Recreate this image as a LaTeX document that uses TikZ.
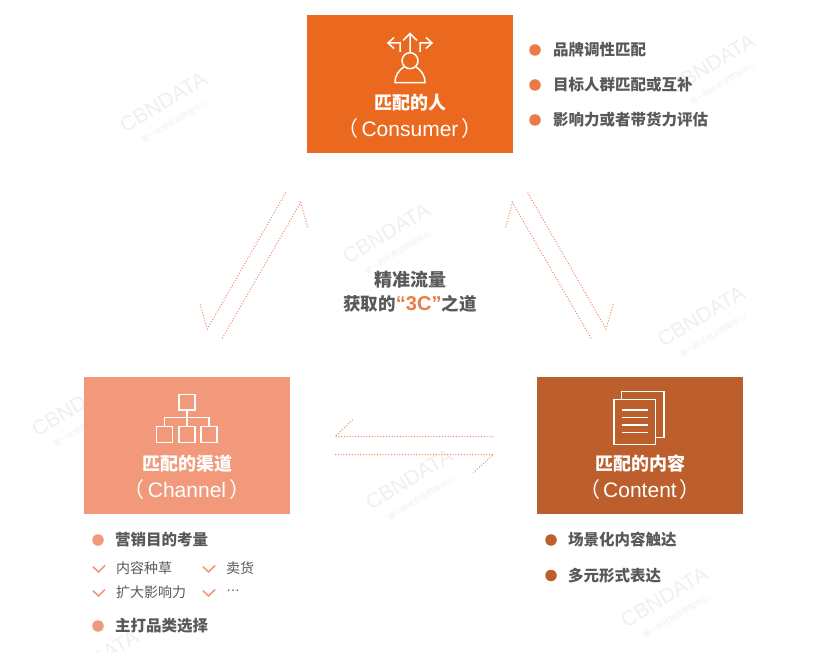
\documentclass[tikz,border=0pt]{standalone}
\usepackage{fontspec}
\setmainfont{Noto Sans CJK SC}
\newfontfamily\latinf{Liberation Sans}
\definecolor{cOrange}{HTML}{EB691F}
\definecolor{cSalmon}{HTML}{F2997B}
\definecolor{cBrown}{HTML}{BC5F2C}
\definecolor{cText}{HTML}{595959}
\definecolor{cDot}{HTML}{EE8A62}
\definecolor{cMark}{HTML}{F0F0F0}
\definecolor{cBul}{HTML}{EC7A45}
\newcommand{\fs}[1]{\fontsize{#1}{#1}\selectfont}
\tikzset{
  cardbox/.style={fill=#1,draw=none,inner sep=0pt,minimum width=206pt,minimum height=138pt,anchor=north west},
  cardtitle/.style={text=white,font=\fs{18}\bfseries,inner sep=0pt},
  cardsub/.style={text=white,font=\fs{21}\latinf,inner sep=0pt},
  listtext/.style={text=cText,font=\fs{15.5}\bfseries,anchor=west,inner sep=0pt},
  subtext/.style={text=cText,font=\fs{14},anchor=west,inner sep=0pt},
  bulletdot/.style={circle,fill=#1,draw=none,minimum size=11.5pt,inner sep=0pt},
  dotarrow/.style={draw=cDot,line width=1pt,dash pattern=on 1pt off 1.8pt,line join=miter},
  iconline/.style={draw=white,line width=1.5pt},
  checkmark/.style={draw=cSalmon,line width=1.6pt},
  wmark/.style={text=cMark,rotate=31,inner sep=0pt,align=center,font=\latinf\fs{21}},
}
\newcommand{\wm}[3]{\node[wmark] (#1) at (#2,#3) {CBNDATA\\[-3pt]{\fs{7.5}\rmfamily 第一财经商业数据中心}};}
\begin{document}
\begin{tikzpicture}[x=1pt,y=-1pt]
\clip (0,0) rectangle (820,652);
\fill[white] (0,0) rectangle (820,652);
% watermarks
\wm{wa}{168}{110}
\wm{wb}{391}{241}
\wm{wc}{706}{324}
\wm{wd}{80}{414}
\wm{we}{716}{72}
\wm{wf}{414}{487}
\wm{wg}{669}{605}
\wm{wh}{100}{668}
% cards
\node[cardbox=cOrange] (consumer) at (307,15) {};
\node[cardbox=cSalmon,minimum height=137pt] (channel) at (84,377) {};
\node[cardbox=cBrown,minimum height=137pt] (content) at (537,377) {};
% card text
\node[cardtitle] (t1) at (410,103) {匹配的人};
\node[cardsub] (s1) at (410,129) {{\rmfamily （}\kern3pt Consumer\kern3pt{\rmfamily ）}};
\node[cardtitle] (t2) at (187,464) {匹配的渠道};
\node[cardsub] (s2) at (187,490) {{\rmfamily （}\kern3pt Channel\kern3pt{\rmfamily ）}};
\node[cardtitle] (t3) at (640,464) {匹配的内容};
\node[cardsub] (s3) at (640,490) {{\rmfamily （}\kern3pt Content\kern3pt{\rmfamily ）}};
% person icon
\draw[iconline] (410,60.7) circle (8);
\draw[iconline] (404,67) .. controls (399,70) and (395,75) .. (395,82.7) -- (425,82.7) .. controls (425,75) and (421,70) .. (416,67);
\draw[iconline] (410,52) -- (410,34) (403,40.5) -- (410,33.5) -- (417,40.5);
\draw[iconline] (400,52) -- (400,43) -- (388.5,43) (394,37.5) -- (388,43) -- (394,48.5);
\draw[iconline] (420,52) -- (420,43) -- (431.5,43) (426,37.5) -- (432,43) -- (426,48.5);
% channel icon
\draw[iconline] (179,394.3) rectangle (195,410);
\draw[iconline] (156.7,426.7) rectangle (172.7,442.3);
\draw[iconline] (179,426.7) rectangle (195,442.3);
\draw[iconline] (201,426.7) rectangle (217,442.3);
\draw[iconline] (187,410) -- (187,426.7) (164.7,426.7) -- (164.7,417.3) -- (209,417.3) -- (209,426.7);
% content icon
\draw[iconline] (621.7,399.3) -- (621.7,391.7) -- (664,391.7) -- (664,437.3) -- (655.7,437.3);
\draw[iconline] (614,399.3) rectangle (655.7,444.3);
\draw[iconline] (621.7,410) -- (648,410) (621.7,417.7) -- (648,417.7) (621.7,425) -- (648,425) (621.7,432.7) -- (648,432.7);
% consumer list
\node[bulletdot=cBul] (b11) at (535,50) {};
\node[bulletdot=cBul] (b12) at (535,85) {};
\node[bulletdot=cBul] (b13) at (535,120) {};
\node[listtext] (l11) at (553,50) {品牌调性匹配};
\node[listtext] (l12) at (553,85) {目标人群匹配或互补};
\node[listtext] (l13) at (553,120) {影响力或者带货力评估};
% channel list
\node[bulletdot=cSalmon] (b21) at (98,540) {};
\node[bulletdot=cSalmon] (b22) at (98,626) {};
\node[listtext] (l21) at (115,540) {营销目的考量};
\node[listtext] (l22) at (115,626) {主打品类选择};
\node[subtext] (s21) at (116,568) {内容种草};
\node[subtext] (s22) at (226,568) {卖货};
\node[subtext] (s23) at (116,592) {扩大影响力};
\node[subtext,font=\fs{14}\latinf] (s24) at (226,591) {…};
\draw[checkmark] (93,566.7) -- (98.5,572) -- (105,565.5);
\draw[checkmark] (203,566.7) -- (208.5,572) -- (215,565.5);
\draw[checkmark] (93,590.7) -- (98.5,596) -- (105,589.5);
\draw[checkmark] (203,590.7) -- (208.5,596) -- (215,589.5);
% content list
\node[bulletdot=cBrown] (b31) at (551,540) {};
\node[bulletdot=cBrown] (b32) at (551,575.5) {};
\node[listtext] (l31) at (568,540) {场景化内容触达};
\node[listtext] (l32) at (568,575.5) {多元形式表达};
% centre text
\node[text=cText,font=\fs{18}\bfseries,inner sep=0pt] (c1) at (410,280) {精准流量};
\node[text=cText,font=\fs{17.5}\bfseries,inner sep=0pt] (c2) at (410,304) {获取的{\color{cBul}\latinf\fs{20}“3C”}之道};
% arrows
\coordinate (a1s) at (285.7,192.7); \coordinate (a1t) at (207.3,329); \coordinate (a1b) at (200,304);
\coordinate (a2s) at (222.3,338.3); \coordinate (a2t) at (300.7,202.3); \coordinate (a2b) at (307.7,227.3);
\coordinate (a3s) at (591,338.3); \coordinate (a3t) at (512.3,202.3); \coordinate (a3b) at (505.7,227.3);
\coordinate (a4s) at (527.7,192.7); \coordinate (a4t) at (606,329); \coordinate (a4b) at (613.3,304);
\coordinate (a5s) at (493.3,436.7); \coordinate (a5t) at (335,436.7); \coordinate (a5b) at (353.3,419);
\coordinate (a6s) at (335,454.7); \coordinate (a6t) at (493.3,454.7); \coordinate (a6b) at (473.3,472.7);
\draw[dotarrow] (a1s) -- (a1t) -- (a1b);
\draw[dotarrow] (a2s) -- (a2t) -- (a2b);
\draw[dotarrow] (a3s) -- (a3t) -- (a3b);
\draw[dotarrow] (a4s) -- (a4t) -- (a4b);
\draw[dotarrow] (a5s) -- (a5t) -- (a5b);
\draw[dotarrow] (a6s) -- (a6t) -- (a6b);
\end{tikzpicture}
\end{document}
